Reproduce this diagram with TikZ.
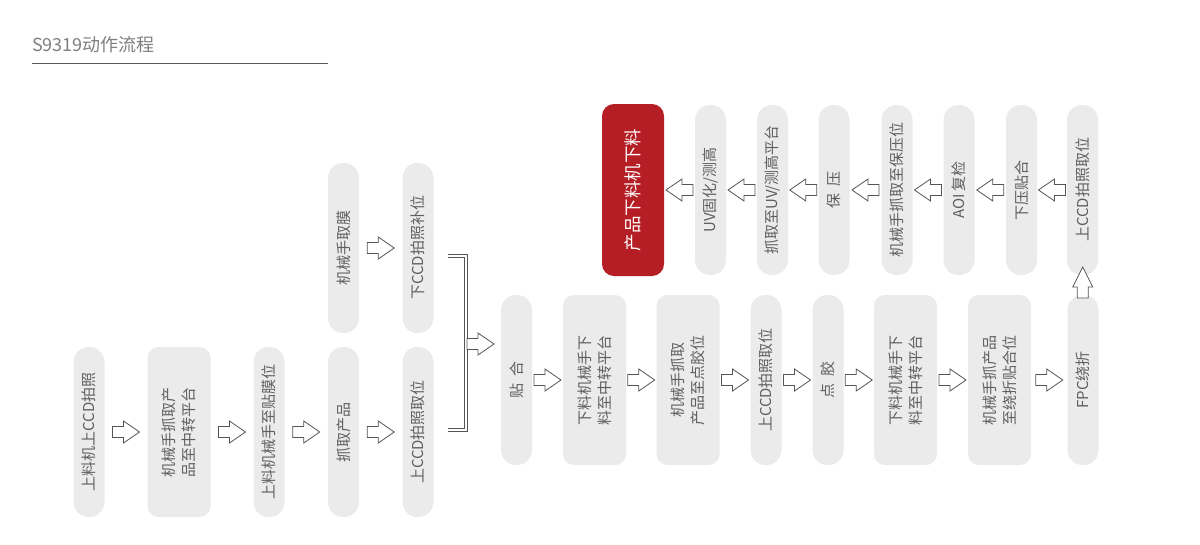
\documentclass[tikz,border=0pt]{standalone}
\usepackage{fontspec}
\setmainfont{Noto Sans CJK SC}
\usetikzlibrary{calc}
\definecolor{boxgray}{HTML}{EBEBEB}
\definecolor{txtgray}{HTML}{5F5F5F}
\definecolor{arrgray}{HTML}{555555}
\definecolor{redfill}{HTML}{B41E24}
\definecolor{titlegray}{HTML}{7F7F7F}
\definecolor{rulegray}{HTML}{5A5A5A}
\newcommand{\wgap}{ \hspace{0.3em}}
\begin{document}
\begin{tikzpicture}[x=1pt,y=-1pt,
  box/.style={rotate=90, fill=boxgray, text=txtgray, inner sep=0pt,
    minimum height=31pt, minimum width=170pt, rounded corners=15pt,
    align=center, font=\fontsize{15}{20}\selectfont},
  widebox/.style={box, minimum height=63pt, rounded corners=11pt},
  redbox/.style={widebox, fill=redfill, text=white, minimum height=62pt,
    minimum width=172pt, rounded corners=12pt, font=\fontsize{17.5}{22}\selectfont},
  blk/.style={draw=arrgray, fill=white, line width=0.8pt, line join=miter},
  rarrow/.pic={\path[blk] (-13.5,-5.5) -- (-2.5,-5.5) -- (-2.5,-11) -- (13.5,0)
      -- (-2.5,11) -- (-2.5,5.5) -- (-13.5,5.5) -- cycle;},
  uarrow/.pic={\path[blk] (-15.5,-5.5) -- (-4.5,-5.5) -- (-4.5,-10) -- (15.5,0)
      -- (-4.5,10) -- (-4.5,5.5) -- (-15.5,5.5) -- cycle;},
  bracketline/.style={draw=arrgray, line width=0.8pt, double=white, double distance=1.8pt},
]
\path[use as bounding box, fill=white] (0,0) rectangle (1200,544);

% title
\node[anchor=west, inner sep=0pt, text=titlegray, font=\fontsize{18}{22}\selectfont] (title) at (32,45) {S9319动作流程};
\coordinate (ulL) at (32,63);
\coordinate (ulR) at (328,63);
\draw[rulegray, line width=1pt] (ulL) -- (ulR);

% bottom row
\node[box] (a1) at (89,432) {上料机上CCD拍照};
\node[widebox] (a2) at (179,432) {机械手抓取产\\品至中转平台};
\node[box] (a3) at (269,432) {上料机械手至贴膜位};
\node[box] (a4) at (343.5,432) {抓取产品};
\node[box] (a5) at (418,432) {上CCD拍照取位};
% upper column
\node[box] (b1) at (343.5,248) {机械手取膜};
\node[box] (b2) at (418,248) {下CCD拍照补位};

% middle row
\node[box] (c1) at (516.5,380) {贴\wgap 合};
\node[widebox] (c2) at (594.5,380) {下料机械手下\\料至中转平台};
\node[widebox] (c3) at (688,380) {机械手抓取\\产品至点胶位};
\node[box] (c4) at (766,380) {上CCD拍照取位};
\node[box] (c5) at (828,380) {点\wgap 胶};
\node[widebox] (c6) at (905.5,380) {下料机械手下\\料至中转平台};
\node[widebox] (c7) at (999.5,380) {机械手抓产品\\至绕折贴合位};
\node[box] (c8) at (1083,380) {FPC绕折};

% top row
\node[redbox] (d1) at (633,190) {产品下料机下料};
\node[box] (d2) at (710.5,190) {UV固化/测高};
\node[box] (d3) at (772.5,190) {抓取至UV/测高平台};
\node[box] (d4) at (834,190) {保\wgap 压};
\node[box] (d5) at (897,190) {机械手抓取至保压位};
\node[box] (d6) at (959,190) {AOI 复检};
\node[box] (d7) at (1021.5,190) {下压贴合};
\node[box] (d8) at (1082.5,190) {上CCD拍照取位};

% arrows bottom row / column
\path ($(a1.south)!0.5!(a2.north)$) pic {rarrow};
\path ($(a2.south)!0.5!(a3.north)$) pic {rarrow};
\path ($(a3.south)!0.5!(a4.north)$) pic {rarrow};
\path ($(a4.south)!0.5!(a5.north)$) pic {rarrow};
\path ($(b1.south)!0.5!(b2.north)$) pic {rarrow};

% bracket
\coordinate (brTL) at (448,256);
\coordinate (brTR) at (466,256);
\coordinate (brBR) at (466,430);
\coordinate (brBL) at (448,430);
\path[bracketline] (brTL) -- (brTR) -- (brBR) -- (brBL);
\coordinate (brArr) at (480.5,344);
\path (brArr) pic {rarrow};

% middle row arrows
\path ($(c1.south)!0.5!(c2.north)$) pic {rarrow};
\path ($(c2.south)!0.5!(c3.north)$) pic {rarrow};
\path ($(c3.south)!0.5!(c4.north)$) pic {rarrow};
\path ($(c4.south)!0.5!(c5.north)$) pic {rarrow};
\path ($(c5.south)!0.5!(c6.north)$) pic {rarrow};
\path ($(c6.south)!0.5!(c7.north)$) pic {rarrow};
\path ($(c7.south)!0.5!(c8.north)$) pic {rarrow};

% up arrow
\path ($(c8.east)!0.5!(d8.west)+(0,-2.5)$) pic[rotate=90] {uarrow};

% top row arrows (leftwards)
\path ($(d1.south)!0.5!(d2.north)$) pic[rotate=180] {rarrow};
\path ($(d2.south)!0.5!(d3.north)$) pic[rotate=180] {rarrow};
\path ($(d3.south)!0.5!(d4.north)$) pic[rotate=180] {rarrow};
\path ($(d4.south)!0.5!(d5.north)$) pic[rotate=180] {rarrow};
\path ($(d5.south)!0.5!(d6.north)$) pic[rotate=180] {rarrow};
\path ($(d6.south)!0.5!(d7.north)$) pic[rotate=180] {rarrow};
\path ($(d7.south)!0.5!(d8.north)$) pic[rotate=180] {rarrow};
\end{tikzpicture}
\end{document}
